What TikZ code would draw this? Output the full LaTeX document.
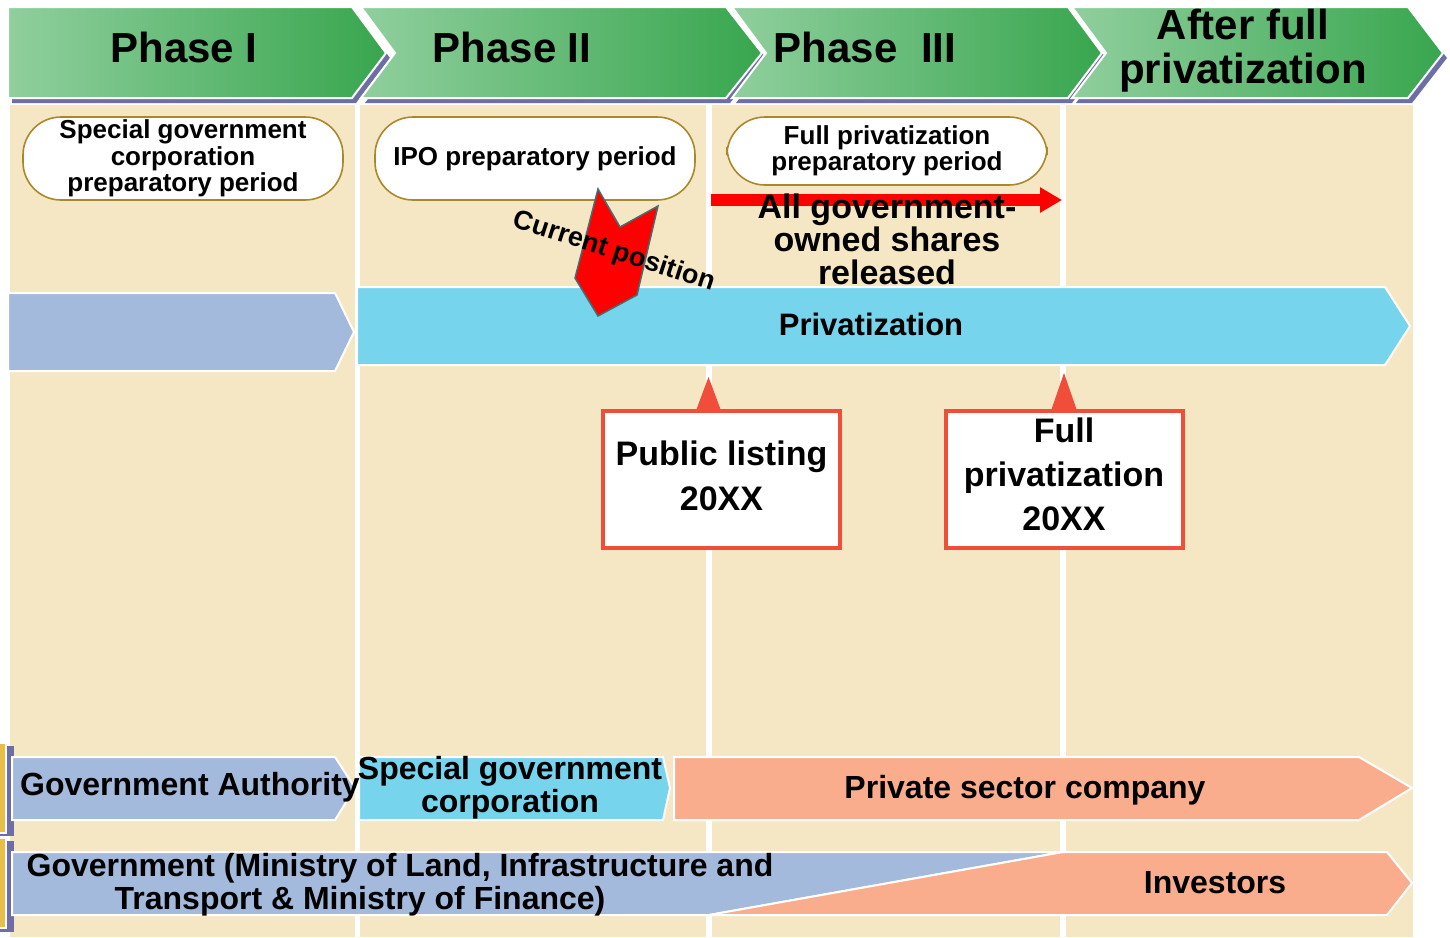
\documentclass[tikz,border=0pt]{standalone}
\usepackage{fontspec}
\setmainfont{Liberation Sans}
\usetikzlibrary{arrows.meta}
\definecolor{beige}{HTML}{F6E7C4}
\definecolor{gl}{HTML}{90CF9E}
\definecolor{gd}{HTML}{38A64E}
\definecolor{shadowc}{HTML}{6E6EA6}
\definecolor{bluegrey}{HTML}{A3BADC}
\definecolor{cyanb}{HTML}{76D4ED}
\definecolor{salmon}{HTML}{FAAD8D}
\definecolor{callred}{HTML}{F04E3A}
\definecolor{ovalb}{HTML}{A8882A}
\definecolor{yel}{HTML}{E8BE48}
\definecolor{teal}{HTML}{3E7272}
\begin{document}
\begin{tikzpicture}[x=1pt,y=-1pt,
  every node/.style={inner sep=0pt, align=center, text=black},
  hdr/.style={font=\fontsize{42}{44}\selectfont\bfseries},
  chev/.style={left color=gl, right color=gd, draw=white, line width=2pt},
  shad/.style={fill=shadowc},
  oval/.style={draw=ovalb, line width=1.6pt, fill=white, rounded corners=38pt,
     font=\fontsize{26}{26.5}\selectfont\bfseries},
  band/.style={draw=white, line width=2pt},
  bandtxt/.style={font=\fontsize{32}{33}\selectfont\bfseries},
  calltxt/.style={font=\fontsize{34}{45}\selectfont\bfseries},
  callbox/.style={draw=callred, line width=3.5pt, fill=white},
  ptr/.style={fill=callred}
]
\useasboundingbox (0,0) rectangle (1450,937);
\fill[white] (0,0) rectangle (1450,937);
% background
\fill[beige] (10,105) rectangle (1413,937);
\fill[white] (355,105) rectangle (360,937);
\fill[white] (706,105) rectangle (712,937);
\fill[white] (1060,105) rectangle (1066,937);
% left yellow tabs
\fill[shadowc] (-10,746) rectangle (14,836);
\fill[shadowc] (-10,841) rectangle (14,932);
\filldraw[fill=yel, draw=white, line width=2pt] (-10,743) rectangle (6,833);
\filldraw[fill=yel, draw=white, line width=2pt] (-10,838) rectangle (6,928);
% header shadows
\begin{scope}[shift={(4,5)}]
\fill[shad] (8,7) -- (352,7) -- (386,53) -- (352,98) -- (8,98) -- cycle;
\fill[shad] (361,7) -- (726,7) -- (762,53) -- (726,98) -- (361,98) -- (395,53) -- cycle;
\fill[shad] (732,7) -- (1068,7) -- (1102,53) -- (1068,98) -- (732,98) -- (766,53) -- cycle;
\fill[shad] (1072,7) -- (1408,7) -- (1443,53) -- (1408,98) -- (1072,98) -- (1106,53) -- cycle;
\end{scope}
% header chevrons
\shadedraw[chev] (8,7) -- (352,7) -- (386,53) -- (352,98) -- (8,98) -- cycle;
\shadedraw[chev] (361,7) -- (726,7) -- (762,53) -- (726,98) -- (361,98) -- (395,53) -- cycle;
\shadedraw[chev] (732,7) -- (1068,7) -- (1102,53) -- (1068,98) -- (732,98) -- (766,53) -- cycle;
\shadedraw[chev] (1072,7) -- (1408,7) -- (1443,53) -- (1408,98) -- (1072,98) -- (1106,53) -- cycle;
\node[hdr] (h1) at (184,47) {Phase I};
\node[hdr] (h2) at (512,47) {Phase II};
\node[hdr] (h3) at (865,47) {Phase\ \ III};
\node[hdr] (h4) at (1243,51) {After full\\privatization};
% ovals
\node[oval, minimum width=320pt, minimum height=83pt] (o1) at (183,158.5)
  {Special government\\corporation\\preparatory period};
\node[oval, minimum width=320pt, minimum height=83pt] (o2) at (535,158.5)
  {IPO preparatory period};
\node[oval, minimum width=320pt, minimum height=68pt] (o3) at (887,151)
  {Full privatization\\preparatory period};
% bands
\filldraw[band, fill=bluegrey] (8,293) -- (335,293) -- (354,332) -- (335,371) -- (8,371) -- cycle;
\filldraw[band, fill=cyanb] (357,287) -- (1385,287) -- (1410,326) -- (1385,365) -- (357,365) -- cycle;
\node[font=\fontsize{31}{33}\selectfont\bfseries] (priv) at (871,324) {Privatization};
% red arrow and released text
\coordinate (ra1) at (711,200);
\coordinate (ra2) at (1062,200);
\draw[red, line width=12pt, -{Triangle[length=22pt,width=24pt]}] (ra1) -- (ra2);
\node[font=\fontsize{34}{33}\selectfont\bfseries] (rel) at (887,239)
  {All government-\\owned shares\\released};
% current position arrow
\filldraw[fill=red, draw=teal, line width=1.5pt] (598,189) -- (620,227) -- (658,206) -- (637,295) -- (598,316) -- (575,278) -- cycle;
\node[font=\fontsize{27}{27}\selectfont\bfseries, rotate=-18] (cur) at (614,252) {Current position};
% callouts
\node[callbox, minimum width=237pt, minimum height=137pt] (c1) at (721.5,479.5) {};
\node[callbox, minimum width=237pt, minimum height=137pt] (c2) at (1064.5,479.5) {};
\coordinate (t1) at (708.5,377);
\coordinate (t2) at (1064,373);
\fill[ptr] ([xshift=-12pt]c1.north -| t1) -- (t1) -- ([xshift=12pt]c1.north -| t1) -- cycle;
\fill[ptr] ([xshift=-12.5pt]c2.north -| t2) -- (t2) -- ([xshift=12.5pt]c2.north -| t2) -- cycle;
\node[calltxt] (c1t) at (721.5,475.5) {Public listing\\20XX};
\node[calltxt, font=\fontsize{34}{44}\selectfont\bfseries] (c2t) at (1064,474.5) {Full\\privatization\\20XX};
% bottom row 1
\filldraw[band, fill=bluegrey] (12,757) -- (335,757) -- (355,788) -- (335,820) -- (12,820) -- cycle;
\filldraw[band, fill=cyanb] (359,757) -- (663,757) -- (670,788) -- (663,820) -- (359,820) -- cycle;
\filldraw[band, fill=salmon] (674,757) -- (1359,757) -- (1412,788) -- (1359,820) -- (674,820) -- cycle;
\node[bandtxt] (ga) at (190,787) {Government Authority};
\node[bandtxt] (sgc) at (510,788) {Special government\\corporation};
\node[bandtxt] (psc) at (1025,790) {Private sector company};
% bottom row 2
\filldraw[band, fill=bluegrey] (12,852) -- (1063,852) -- (709,915) -- (12,915) -- cycle;
\filldraw[band, fill=salmon] (709,915) -- (1063,852) -- (1387,852) -- (1412,883) -- (1387,915) -- cycle;
\node[bandtxt] (gov1) at (400,868) {Government (Ministry of Land, Infrastructure and};
\node[bandtxt] (gov2) at (360,901) {Transport \& Ministry of Finance)};
\node[bandtxt] (inv) at (1215,883) {Investors};
\end{tikzpicture}
\end{document}
